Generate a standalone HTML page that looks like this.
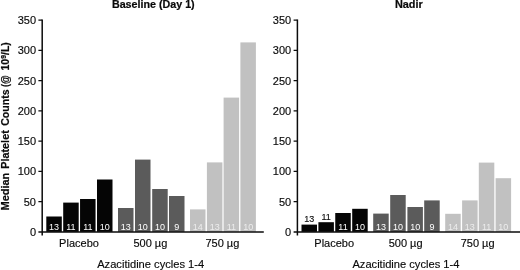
<!DOCTYPE html>
<html><head><meta charset="utf-8"><title>Median Platelet Counts</title>
<style>
html,body{margin:0;padding:0;background:#fff;}
svg{display:block}
text{font-family:"Liberation Sans",Arial,Helvetica,sans-serif;fill:#0a0a0a;stroke:#0a0a0a;stroke-width:.15px}
.t{font-size:11px}
.b{font-size:9px}
.w{fill:#fff;stroke:none}
.w2{fill:#fff;fill-opacity:.7;stroke:none}
.k{fill:#111}
.h{font-size:10px;font-weight:bold;stroke-width:.2px}
</style></head>
<body>
<svg width="520" height="270" viewBox="0 0 520 270">
<rect width="520" height="270" fill="#fff"/>
<rect x="46.30" y="216.50" width="15.5" height="15.40" fill="#050505"/>
<rect x="63.20" y="202.60" width="15.5" height="29.30" fill="#050505"/>
<rect x="80.05" y="199.00" width="15.5" height="32.90" fill="#050505"/>
<rect x="97.00" y="179.50" width="15.5" height="52.40" fill="#050505"/>
<rect x="118.00" y="208.00" width="15.5" height="23.90" fill="#5b5b5b"/>
<rect x="135.00" y="159.60" width="15.5" height="72.30" fill="#5b5b5b"/>
<rect x="152.20" y="189.00" width="15.5" height="42.90" fill="#5b5b5b"/>
<rect x="169.00" y="196.00" width="15.5" height="35.90" fill="#5b5b5b"/>
<rect x="190.00" y="209.40" width="15.5" height="22.50" fill="#c1c1c1"/>
<rect x="206.90" y="162.40" width="15.5" height="69.50" fill="#c1c1c1"/>
<rect x="223.60" y="97.60" width="15.5" height="134.30" fill="#c1c1c1"/>
<rect x="240.40" y="42.40" width="15.5" height="189.50" fill="#c1c1c1"/>
<path d="M42.20 19.4V235.5M38.40 231.9H263.80" stroke="#0c0c0c" stroke-width="1.5" fill="none"/>
<path d="M38.40 201.64H42.20M38.40 171.38H42.20M38.40 141.12H42.20M38.40 110.86H42.20M38.40 80.60H42.20M38.40 50.34H42.20M38.40 20.08H42.20" stroke="#0c0c0c" stroke-width="1.4" fill="none"/>
<text x="36.00" y="235.85" text-anchor="end" class="t">0</text>
<text x="36.00" y="205.59" text-anchor="end" class="t">50</text>
<text x="36.00" y="175.33" text-anchor="end" class="t">100</text>
<text x="36.00" y="145.07" text-anchor="end" class="t">150</text>
<text x="36.00" y="114.81" text-anchor="end" class="t">200</text>
<text x="36.00" y="84.55" text-anchor="end" class="t">250</text>
<text x="36.00" y="54.29" text-anchor="end" class="t">300</text>
<text x="36.00" y="24.03" text-anchor="end" class="t">350</text>
<text x="54.05" y="229.9" text-anchor="middle" class="b w">13</text>
<text x="70.95" y="229.9" text-anchor="middle" class="b w">11</text>
<text x="87.80" y="229.9" text-anchor="middle" class="b w">11</text>
<text x="104.75" y="229.9" text-anchor="middle" class="b w">10</text>
<text x="125.75" y="229.9" text-anchor="middle" class="b w">13</text>
<text x="142.75" y="229.9" text-anchor="middle" class="b w">10</text>
<text x="159.95" y="229.9" text-anchor="middle" class="b w">10</text>
<text x="176.75" y="229.9" text-anchor="middle" class="b w">9</text>
<text x="197.75" y="229.9" text-anchor="middle" class="b w2">14</text>
<text x="214.65" y="229.9" text-anchor="middle" class="b w2">13</text>
<text x="231.35" y="229.9" text-anchor="middle" class="b w2">11</text>
<text x="248.15" y="229.9" text-anchor="middle" class="b w2">10</text>
<text x="79.00" y="247.2" text-anchor="middle" class="t">Placebo</text>
<text x="150.40" y="247.2" text-anchor="middle" class="t">500 µg</text>
<text x="222.40" y="247.2" text-anchor="middle" class="t">750 µg</text>
<text x="150.70" y="267.7" text-anchor="middle" class="t" textLength="107" lengthAdjust="spacingAndGlyphs">Azacitidine cycles 1-4</text>
<text x="153.30" y="7.9" text-anchor="middle" class="h" textLength="82.8" lengthAdjust="spacingAndGlyphs">Baseline (Day 1)</text>
<rect x="301.50" y="224.60" width="15.5" height="7.30" fill="#050505"/>
<rect x="318.40" y="222.20" width="15.5" height="9.70" fill="#050505"/>
<rect x="335.25" y="213.00" width="15.5" height="18.90" fill="#050505"/>
<rect x="352.20" y="208.80" width="15.5" height="23.10" fill="#050505"/>
<rect x="373.20" y="213.60" width="15.5" height="18.30" fill="#5b5b5b"/>
<rect x="390.20" y="195.00" width="15.5" height="36.90" fill="#5b5b5b"/>
<rect x="407.40" y="207.00" width="15.5" height="24.90" fill="#5b5b5b"/>
<rect x="424.20" y="200.40" width="15.5" height="31.50" fill="#5b5b5b"/>
<rect x="445.20" y="213.80" width="15.5" height="18.10" fill="#c1c1c1"/>
<rect x="462.10" y="200.40" width="15.5" height="31.50" fill="#c1c1c1"/>
<rect x="478.80" y="162.60" width="15.5" height="69.30" fill="#c1c1c1"/>
<rect x="495.60" y="178.20" width="15.5" height="53.70" fill="#c1c1c1"/>
<path d="M297.40 19.4V235.5M293.60 231.9H520.00" stroke="#0c0c0c" stroke-width="1.5" fill="none"/>
<path d="M293.60 201.64H297.40M293.60 171.38H297.40M293.60 141.12H297.40M293.60 110.86H297.40M293.60 80.60H297.40M293.60 50.34H297.40M293.60 20.08H297.40" stroke="#0c0c0c" stroke-width="1.4" fill="none"/>
<text x="291.20" y="235.85" text-anchor="end" class="t">0</text>
<text x="291.20" y="205.59" text-anchor="end" class="t">50</text>
<text x="291.20" y="175.33" text-anchor="end" class="t">100</text>
<text x="291.20" y="145.07" text-anchor="end" class="t">150</text>
<text x="291.20" y="114.81" text-anchor="end" class="t">200</text>
<text x="291.20" y="84.55" text-anchor="end" class="t">250</text>
<text x="291.20" y="54.29" text-anchor="end" class="t">300</text>
<text x="291.20" y="24.03" text-anchor="end" class="t">350</text>
<text x="309.25" y="222.20" text-anchor="middle" class="b k">13</text>
<text x="326.15" y="219.80" text-anchor="middle" class="b k">11</text>
<text x="343.00" y="229.9" text-anchor="middle" class="b w">11</text>
<text x="359.95" y="229.9" text-anchor="middle" class="b w">10</text>
<text x="380.95" y="229.9" text-anchor="middle" class="b w">13</text>
<text x="397.95" y="229.9" text-anchor="middle" class="b w">10</text>
<text x="415.15" y="229.9" text-anchor="middle" class="b w">10</text>
<text x="431.95" y="229.9" text-anchor="middle" class="b w">9</text>
<text x="452.95" y="229.9" text-anchor="middle" class="b w2">14</text>
<text x="469.85" y="229.9" text-anchor="middle" class="b w2">13</text>
<text x="486.55" y="229.9" text-anchor="middle" class="b w2">11</text>
<text x="503.35" y="229.9" text-anchor="middle" class="b w2">10</text>
<text x="334.20" y="247.2" text-anchor="middle" class="t">Placebo</text>
<text x="405.60" y="247.2" text-anchor="middle" class="t">500 µg</text>
<text x="477.60" y="247.2" text-anchor="middle" class="t">750 µg</text>
<text x="405.90" y="267.7" text-anchor="middle" class="t" textLength="107" lengthAdjust="spacingAndGlyphs">Azacitidine cycles 1-4</text>
<text x="408.80" y="7.9" text-anchor="middle" class="h" textLength="27.8" lengthAdjust="spacingAndGlyphs">Nadir</text>
<g transform="translate(8.7 210) rotate(-90)"><text x="-0.50" y="0" class="h" textLength="37.80" lengthAdjust="spacingAndGlyphs">Median</text><text x="41.20" y="0" class="h" textLength="38.60" lengthAdjust="spacingAndGlyphs">Platelet</text><text x="84.20" y="0" class="h" textLength="36.40" lengthAdjust="spacingAndGlyphs">Counts</text><text x="123.00" y="0" class="h" textLength="11.80" lengthAdjust="spacingAndGlyphs">(@</text><text x="139.5" y="0" class="h" textLength="28.3" lengthAdjust="spacingAndGlyphs">10<tspan font-size="6.5" dy="-3.2">9</tspan><tspan dy="3.2">/L)</tspan></text></g>
</svg>
</body></html>
